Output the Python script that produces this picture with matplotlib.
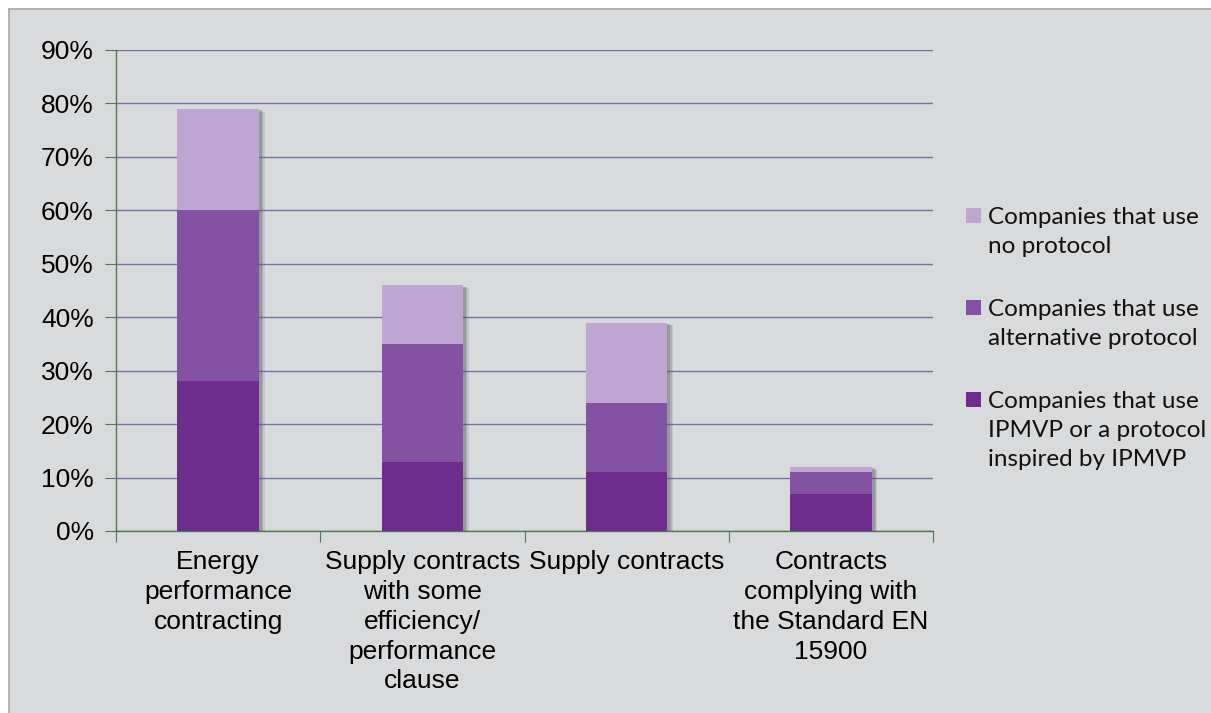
import numpy as np
import matplotlib.pyplot as plt
import matplotlib.patheffects as pe
from matplotlib.patches import Rectangle

categories = ['Energy\nperformance\ncontracting',
              'Supply contracts\nwith some\nefficiency/\nperformance\nclause',
              'Supply contracts',
              'Contracts\ncomplying with\nthe Standard EN\n15900']
ipmvp = [28, 13, 11, 7]
alternative = [32, 22, 13, 4]
no_protocol = [19, 11, 15, 1]
series_labels = ['Companies that use\nIPMVP or a protocol\ninspired by IPMVP',
                 'Companies that use\nalternative protocol',
                 'Companies that use\nno protocol']
colors = ['#6E2C8E', '#8452A3', '#BFA5D2']

plt.rcParams['font.family'] = ['Liberation Sans', 'DejaVu Sans']

W, H = 1211, 713
fig = plt.figure(figsize=(W / 100, H / 100), dpi=100, facecolor='white')
# grey chart area with border
fig.patches.append(Rectangle((9 / W, -0.01), 1.02, 1 - 9 / H + 0.01,
                             transform=fig.transFigure, facecolor='#D9DADC',
                             edgecolor='#A6A6A6', linewidth=1.2, zorder=-10))

ax = fig.add_axes([116 / W, 1 - 531 / H, (933 - 116) / W, (531 - 50) / H])
ax.set_facecolor('none')

x = np.arange(len(categories))
width = 0.4
series = [ipmvp, alternative, no_protocol]
totals = np.sum(series, axis=0)
# soft shadow behind the whole stack
for off, a in [((4, -2), 0.15), ((3, -1.5), 0.2), ((2, -1), 0.25)]:
    ax.bar(x, totals, width, color='none', zorder=2.5,
           path_effects=[pe.SimplePatchShadow(offset=off, shadow_rgbFace='#555555', alpha=a)])
bottom = np.zeros(len(categories))
for vals, c in zip(series, colors):
    ax.bar(x, vals, width, bottom=bottom, color=c, zorder=3)
    bottom += np.array(vals)

ax.set_xlim(-0.5, len(categories) - 0.5)
ax.set_ylim(0, 90)
ax.set_yticks(np.arange(0, 91, 10))
ax.set_yticklabels([f'{v}%' for v in range(0, 91, 10)], fontsize=19)
ax.yaxis.grid(True, color='#7573A6', linewidth=1.0, zorder=1)
ax.set_axisbelow(True)

ax.set_xticks(np.arange(-0.5, len(categories), 1.0))
ax.set_xticklabels([])
ax.set_xticks(x, minor=True)
ax.set_xticklabels(categories, minor=True, fontsize=19, linespacing=1.3, va='top')
ax.tick_params(axis='x', which='minor', length=0, pad=14)
ax.tick_params(axis='x', which='major', length=8, color='#4F7A4F', direction='out')
ax.tick_params(axis='y', length=8, color='#4F7A4F', direction='out', pad=8)

for s in ['top', 'right']:
    ax.spines[s].set_visible(False)
for s in ['left', 'bottom']:
    ax.spines[s].set_color('#4F7A4F')
    ax.spines[s].set_linewidth(1.0)

# legend, square aligned with the first text line of each entry
first_baseline = 224
entry_pitch = 92
line_pitch = 29
for i, (lab, c) in enumerate(zip(series_labels[::-1], colors[::-1])):
    y0 = first_baseline + i * entry_pitch
    fig.patches.append(Rectangle((966 / W, 1 - (y0 - 1) / H), 15 / W, 15 / H,
                                 transform=fig.transFigure, facecolor=c,
                                 edgecolor='none'))
    for j, line in enumerate(lab.split('\n')):
        fig.text(988 / W, 1 - (y0 + j * line_pitch) / H, line, fontsize=17.5,
                 family='Lato', va='baseline', ha='left', color='#111111')

fig.savefig('out.png', dpi=100, facecolor='white')
